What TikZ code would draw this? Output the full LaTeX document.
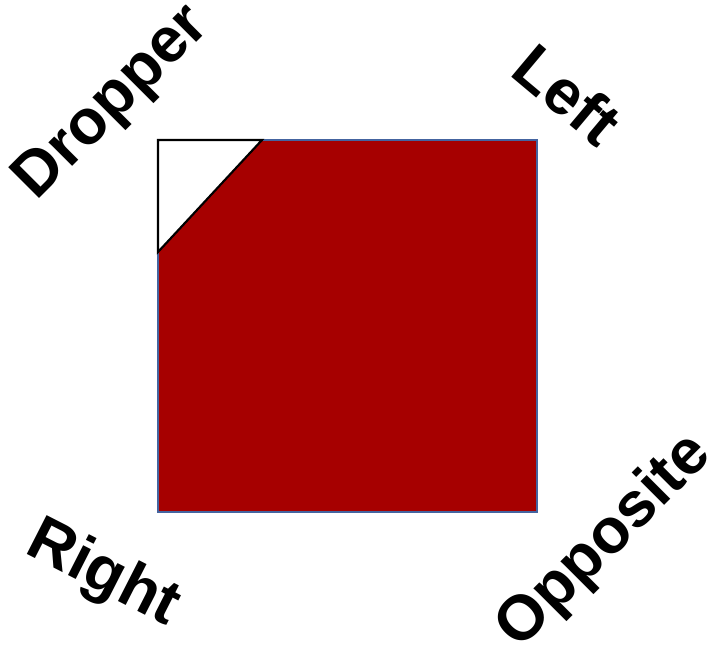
\documentclass[tikz,border=0pt]{standalone}
\usepackage{fontspec}
\setmainfont{Liberation Sans}
\usepackage{xcolor}
\definecolor{brickred}{RGB}{166,0,0}
\definecolor{edgeblue}{RGB}{68,100,160}

\begin{document}
\begin{tikzpicture}[x=0.75pt, y=0.75pt,
    sidelabel/.style={font=\fontsize{47.5}{56}\selectfont\bfseries, inner sep=0pt}]

    \useasboundingbox (0,0) rectangle (717,645);

    % Square with the cut corner
    \fill[brickred] (158,133) rectangle (537,505);
    \draw[edgeblue, line width=1.5pt] (158,133) rectangle (537,505);
    \filldraw[fill=white, draw=black, line width=1.6pt, line join=miter]
      (158,505) -- (262,505) -- (158,393) -- cycle;

    % Corner labels
    \node[sidelabel, rotate=45]  (dropper)  at (113,541) {Dropper};
    \node[sidelabel, rotate=-40] (left)     at (568,551) {Left};
    \node[sidelabel, rotate=-27] (right)    at (103,70)  {Right};
    \node[sidelabel, rotate=45]  (opposite) at (605,103) {Opposite};

\end{tikzpicture}
\end{document}
